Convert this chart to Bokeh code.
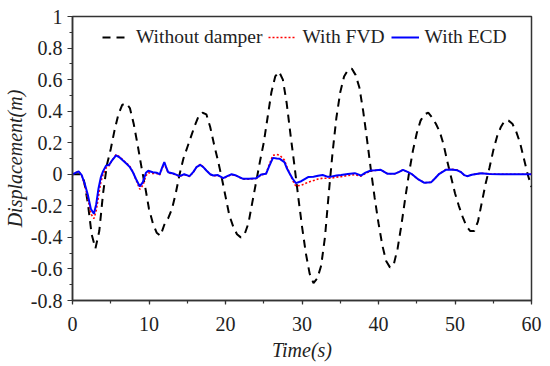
from bokeh.plotting import figure
from bokeh.models import (Range1d, SingleIntervalTicker, CustomJSTickFormatter,
                          Legend, LegendItem)
from bokeh.embed import file_html
from bokeh.resources import INLINE

# ---- data ----
t_nd = [0.0, 0.5, 1.0, 1.5, 2.0, 2.5, 3.0, 3.5, 4.0, 4.5, 5.0, 5.5, 6.0, 6.5, 7.0, 7.5,
        8.0, 8.5, 9.0, 9.5, 10.0, 10.5, 11.0, 11.5, 12.0, 12.5, 13.0, 13.5, 14.0, 14.5,
        15.0, 15.5, 16.0, 16.5, 17.0, 17.5, 18.0, 18.5, 19.0, 19.5, 20.0, 20.5, 21.0,
        21.5, 22.0, 22.5, 23.0, 23.5, 24.0, 24.5, 25.0, 25.5, 26.0, 26.5, 27.0, 27.5,
        28.0, 28.5, 29.0, 29.5, 30.0, 30.5, 31.0, 31.5, 32.0, 32.5, 33.0, 33.5, 34.0,
        34.5, 35.0, 35.5, 36.0, 36.5, 37.0, 37.5, 38.0, 38.5, 39.0, 39.5, 40.0, 40.5,
        41.0, 41.5, 42.0, 42.5, 43.0, 43.5, 44.0, 44.5, 45.0, 45.5, 46.0, 46.5, 47.0,
        47.5, 48.0, 48.5, 49.0, 49.5, 50.0, 50.5, 51.0, 51.5, 52.0, 52.5, 53.0, 53.5,
        54.0, 54.5, 55.0, 55.5, 56.0, 56.5, 57.0, 57.5, 58.0, 58.5, 59.0, 59.5, 60.0]
without_damper = [0.0, 0.0, 0.0, -0.04, -0.18, -0.38, -0.47, -0.36, -0.12, 0.06, 0.16, 0.28,
                  0.38, 0.44, 0.45, 0.42, 0.32, 0.19, 0.05, -0.08, -0.22, -0.31, -0.37,
                  -0.39, -0.32, -0.28, -0.22, -0.12, 0.0, 0.10, 0.17, 0.24, 0.31, 0.37, 0.39,
                  0.38, 0.30, 0.19, 0.09, -0.02, -0.14, -0.26, -0.33, -0.38, -0.40, -0.38,
                  -0.31, -0.18, -0.05, 0.08, 0.20, 0.36, 0.52, 0.62, 0.65, 0.60, 0.45, 0.25,
                  0.06, -0.14, -0.33, -0.50, -0.63, -0.69, -0.66, -0.58, -0.40, -0.12, 0.14,
                  0.36, 0.52, 0.62, 0.66, 0.67, 0.63, 0.55, 0.40, 0.22, 0.03, -0.15, -0.31,
                  -0.45, -0.55, -0.59, -0.57, -0.47, -0.32, -0.15, 0.01, 0.15, 0.26, 0.34,
                  0.38, 0.39, 0.36, 0.32, 0.27, 0.19, 0.08, -0.02, -0.12, -0.20, -0.27,
                  -0.33, -0.36, -0.36, -0.30, -0.18, -0.06, 0.04, 0.15, 0.24, 0.30, 0.34,
                  0.34, 0.32, 0.27, 0.20, 0.10, 0.0, -0.08]

t_d = [0.0, 0.5, 0.8, 1.2, 1.6, 2.0, 2.4, 2.8, 3.1, 3.4, 3.7, 4.0, 4.4, 4.8, 5.2, 5.7,
       6.2, 6.6, 7.1, 7.5, 7.9, 8.3, 8.8, 9.2, 9.6, 9.9, 10.5, 11.0, 11.4, 11.7, 12.0,
       12.2, 12.5, 13.3, 14.0, 14.6, 15.3, 15.8, 16.2, 16.7, 17.1, 17.5, 18.0, 18.4,
       19.0, 19.7, 20.3, 20.8, 21.4, 22.3, 23.1, 24.0, 24.7, 25.3, 25.7, 26.2, 26.7,
       27.1, 27.7, 28.0, 28.4, 28.8, 29.2, 29.9, 30.8, 31.5, 32.1, 32.7, 33.3, 33.8,
       34.5, 35.1, 36.0, 36.9, 37.7, 38.3, 39.0, 39.6, 40.3, 41.2, 42.1, 42.7, 43.2,
       43.8, 44.3, 45.1, 46.0, 46.9, 47.4, 47.95, 48.8, 49.5, 50.3, 50.8, 51.2, 51.6,
       52.2, 53.4, 54.5, 56.0, 58.0, 60.0]
with_ecd = [0.0, 0.012, 0.018, -0.005, -0.06, -0.13, -0.22, -0.25, -0.19, -0.09, -0.02,
            0.02, 0.055, 0.06, 0.09, 0.12, 0.105, 0.087, 0.065, 0.045, 0.013, -0.03,
            -0.077, -0.05, 0.01, 0.022, 0.013, 0.01, 0.0, 0.04, 0.077, 0.05, 0.013, 0.003,
            -0.012, 0.0, -0.012, 0.015, 0.045, 0.06, 0.045, 0.024, 0.0, -0.008, -0.005,
            -0.025, -0.01, 0.0, -0.008, -0.029, -0.029, -0.025, -0.001, 0.003, 0.05, 0.104,
            0.10, 0.098, 0.077, 0.04, 0.003, -0.03, -0.056, -0.044, -0.018, -0.015, -0.010,
            -0.005, -0.015, -0.015, -0.008, -0.005, 0.002, 0.007, -0.008, 0.01, 0.024,
            0.025, 0.028, 0.003, 0.003, 0.015, 0.028, 0.015, 0.003, -0.029, -0.054, -0.05,
            -0.025, 0.003, 0.028, 0.03, 0.025, 0.013, -0.005, -0.012, -0.003, 0.007, 0.002,
            0.0, 0.0, 0.0]
with_fvd = [0.0, 0.012, 0.018, -0.005, -0.07, -0.15, -0.25, -0.28, -0.23, -0.14, -0.05,
            0.0, 0.04, 0.055, 0.09, 0.125, 0.11, 0.09, 0.07, 0.05, 0.015, -0.035,
            -0.095, -0.07, -0.01, 0.01, 0.005, 0.005, -0.005, 0.035, 0.07, 0.045, 0.01,
            0.0, -0.014, -0.002, -0.014, 0.013, 0.045, 0.062, 0.047, 0.024, 0.0, -0.01,
            -0.007, -0.027, -0.012, -0.002, -0.01, -0.031, -0.031, -0.027, -0.003, 0.003,
            0.06, 0.12, 0.125, 0.12, 0.09, 0.05, 0.005, -0.04, -0.075, -0.07, -0.05,
            -0.04, -0.03, -0.025, -0.025, -0.025, -0.018, -0.015, -0.008, -0.002, -0.012,
            0.005, 0.022, 0.025, 0.028, 0.003, 0.003, 0.015, 0.028, 0.015, 0.003, -0.029,
            -0.054, -0.05, -0.025, 0.003, 0.03, 0.032, 0.027, 0.013, -0.005, -0.012,
            -0.003, 0.007, 0.002, 0.0, 0.0, 0.0]

x_label = "Time(s)"
y_label = "Displacement(m)"
FONT = "Liberation Serif"

p = figure(width=550, height=366, output_backend="svg", toolbar_location=None,
           x_range=Range1d(0, 60), y_range=Range1d(-0.8, 1.0),
           min_border_left=71, min_border_right=19, min_border_top=16,
           min_border_bottom=66)
p.background_fill_color = "white"
p.border_fill_color = "white"
p.outline_line_color = "#333333"
p.outline_line_width = 1.5
p.xgrid.visible = False
p.ygrid.visible = False

r_nd = p.line(t_nd, without_damper, line_color="black", line_width=2, line_dash="8 6")
r_fvd = p.line(t_d, with_fvd, line_color="#ff0000", line_width=1.6, line_dash="2 2")
r_ecd = p.line(t_d, with_ecd, line_color="#0000ff", line_width=2)

fmt = CustomJSTickFormatter(code="return Number(tick.toFixed(2)).toString();")

xa = p.xaxis[0]
xa.ticker = SingleIntervalTicker(interval=10, num_minor_ticks=2)
ya = p.yaxis[0]
ya.ticker = SingleIntervalTicker(interval=0.2, num_minor_ticks=2)
for ax in (xa, ya):
    ax.formatter = fmt
    ax.axis_line_color = "#333333"
    ax.axis_line_width = 1.5
    ax.major_tick_line_color = "#333333"
    ax.minor_tick_line_color = "#333333"
    ax.major_tick_line_width = 1.2
    ax.minor_tick_line_width = 1.2
    ax.major_label_text_font = FONT
    ax.major_label_text_font_size = "20px"
    ax.major_label_text_color = "#222222"
    ax.axis_label_text_font = FONT
    ax.axis_label_text_font_style = "italic"
    ax.axis_label_text_font_size = "20px"
    ax.axis_label_text_color = "#222222"

xa.axis_label = x_label
xa.major_tick_in = 0
xa.major_tick_out = 4
xa.minor_tick_in = 0
xa.minor_tick_out = 3
xa.major_label_standoff = 12
xa.axis_label_standoff = 5

ya.axis_label = y_label
ya.major_tick_in = 0
ya.major_tick_out = 5
ya.minor_tick_in = 0
ya.minor_tick_out = 3
ya.major_label_standoff = 5
ya.axis_label_standoff = 2

legend = Legend(items=[LegendItem(label="Without damper", renderers=[r_nd]),
                       LegendItem(label="With FVD", renderers=[r_fvd]),
                       LegendItem(label="With ECD", renderers=[r_ecd])],
                orientation="horizontal", location=(30, 252))
legend.border_line_color = None
legend.background_fill_alpha = 0
legend.padding = 0
legend.margin = 0
legend.spacing = 6
legend.label_standoff = 6
legend.glyph_width = 28
legend.glyph_height = 20
legend.label_height = 20
legend.label_text_font = FONT
legend.label_text_font_size = "19.5px"
legend.label_text_color = "#222222"
p.add_layout(legend)

open("out.html", "w").write(file_html(p, INLINE))
